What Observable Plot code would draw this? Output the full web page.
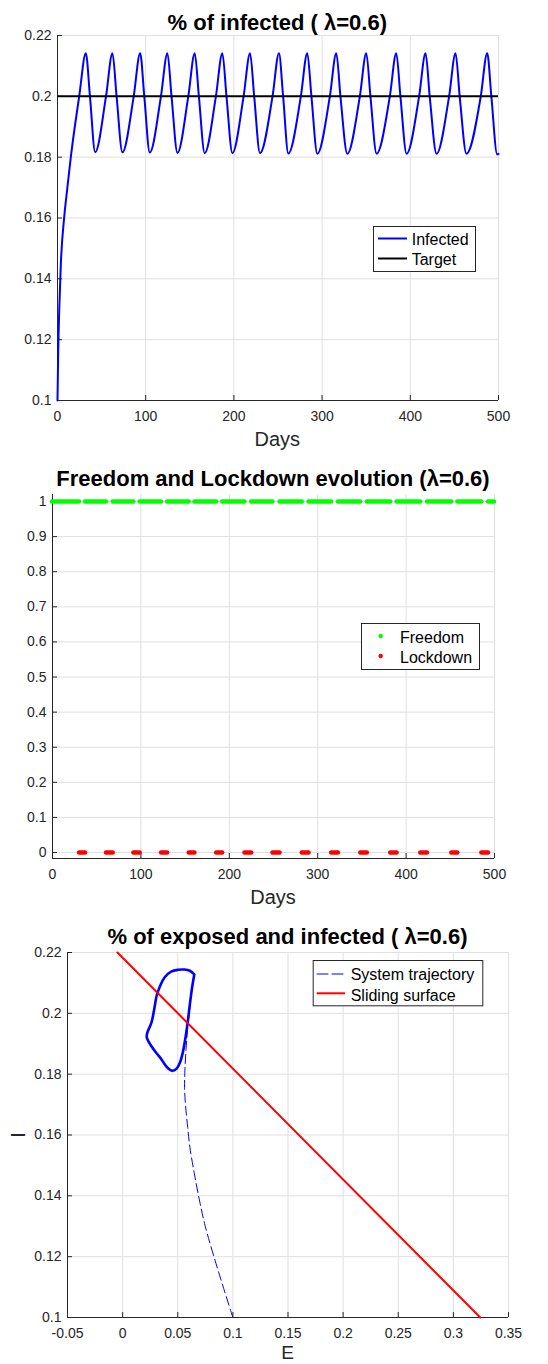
<!DOCTYPE html>
<html>
<head>
<meta charset="utf-8">
<script src="https://cdn.jsdelivr.net/npm/d3@7"></script>
<script src="https://cdn.jsdelivr.net/npm/@observablehq/plot@0.6"></script>
<style>
  html, body { margin: 0; padding: 0; background: #fff; }
  #wrap { position: relative; width: 548px; height: 1364px; overflow: hidden; background: #fff; }
  #wrap > svg { position: absolute; left: 0; }
  #overlay { pointer-events: none; }
</style>
</head>
<body>
<div id="wrap"></div>
<script>
// ---------------- DATA ----------------
// Tick values
const dayTicks = [0, 100, 200, 300, 400, 500];
const iTicks = [0.1, 0.12, 0.14, 0.16, 0.18, 0.2, 0.22];
const ctrlTicks = [0, 0.1, 0.2, 0.3, 0.4, 0.5, 0.6, 0.7, 0.8, 0.9, 1];
const eTicks = [-0.05, 0, 0.05, 0.1, 0.15, 0.2, 0.25, 0.3, 0.35];

// Panel 1: % of infected — initial rise, then cycles
const riseDay = [0, 0.8, 2, 3.8, 7.5, 11.2, 15.1, 19.6, 24.6];
const riseI   = [0.1, 0.116, 0.13, 0.145, 0.16, 0.17, 0.18, 0.19, 0.2];
const peakDay   = [32.1, 62.3, 93.7, 124.6, 155.6, 186.9, 218.3, 251.1, 283.2, 316.1, 350.1, 384.1, 417.3, 451.3, 487.2];
const peakI     = [0.2142, 0.2142, 0.2142, 0.2142, 0.2142, 0.2142, 0.2142, 0.2142, 0.2142, 0.2142, 0.2142, 0.2142, 0.2142, 0.2142, 0.2142];
const downDay   = [36.8, 67.0, 98.4, 129.3, 160.3, 191.6, 223.0, 255.8, 287.9, 320.8, 354.8, 388.8, 422.0, 456.0, 491.9];
const troughDay = [42.7, 73.6, 104.6, 136.0, 166.9, 198.3, 229.6, 261.7, 294.6, 328.6, 361.8, 395.8, 429.8, 463.7, 498.5];
const troughI   = [0.1816, 0.1816, 0.1815, 0.1814, 0.1813, 0.1813, 0.1813, 0.1812, 0.1811, 0.1811, 0.1811, 0.1811, 0.1811, 0.1811, 0.1809];
const upDay     = [55.0, 86.4, 117.3, 148.3, 179.6, 211.0, 243.8, 275.9, 308.8, 342.8, 376.8, 410.0, 444.0, 479.9];
const crossI = 0.2;
const endDay = 500, endI = 0.1811;
const targetI = 0.2;

// Panel 2: lockdown intervals (days)
const lockStart = [30.6, 61.1, 92.1, 123.4, 154.7, 185.7, 217.7, 249.4, 282.6, 315.8, 348.7, 382.6, 416.6, 451.7, 485.7];
const lockEnd   = [37.4, 68.7, 99.2, 130.2, 161.1, 192.5, 225.3, 257.4, 290.2, 323.4, 356.2, 389.8, 424.2, 458.5, 493.2];
const freedomLevel = 1, lockdownLevel = 0;

// Panel 3: phase plane (E, I)
const transE = [0.1000, 0.0870, 0.0748, 0.0700, 0.0651, 0.0610, 0.0590, 0.0570, 0.0562, 0.0565, 0.0575, 0.0590, 0.0610, 0.0630, 0.0650];
const transI = [0.1000, 0.1150, 0.1302, 0.1380, 0.1472, 0.1560, 0.1626, 0.1700, 0.1757, 0.1813, 0.1880, 0.1950, 0.2020, 0.2080, 0.2128];
const loopE = [0.0650, 0.0610, 0.0560, 0.0500, 0.0440, 0.0380, 0.0340, 0.0310, 0.0285, 0.0262, 0.0218, 0.0265, 0.0310, 0.0350, 0.0390, 0.0430, 0.0455, 0.0490, 0.0520, 0.0545, 0.0570, 0.0590, 0.0610, 0.0630, 0.0650];
const loopI = [0.2128, 0.2140, 0.2144, 0.2143, 0.2137, 0.2118, 0.2090, 0.2060, 0.2010, 0.1970, 0.1924, 0.1890, 0.1868, 0.1850, 0.1828, 0.1814, 0.1811, 0.1818, 0.1838, 0.1870, 0.1920, 0.1970, 0.2030, 0.2085, 0.2128];
const surfE = [-0.0047, 0.3244];
const surfI = [0.22, 0.10];

// ---------------- BUILD ----------------
const FONT = "'Liberation Sans', Arial, Helvetica, sans-serif";
const AX = "#262626";
const GRID = "#dfdfdf";
const fmt = d => { const v = +(+d).toFixed(3); return String(v); };

const infected = [];
riseDay.forEach((d, i) => infected.push({day: d, I: riseI[i]}));
peakDay.forEach((d, i) => {
  if (i > 0) infected.push({day: upDay[i - 1], I: crossI});
  infected.push({day: d, I: peakI[i]});
  infected.push({day: downDay[i], I: crossI});
  infected.push({day: troughDay[i], I: troughI[i]});
});
infected.push({day: endDay, I: endI});

const lockSegs = lockStart.map((s, i) => ({start: s, end: lockEnd[i], level: lockdownLevel}));
const freeStarts = [0, ...lockEnd];
const freeEnds = [...lockStart, 500];
const freeSegs = freeStarts.map((s, i) => ({start: s, end: freeEnds[i], level: freedomLevel}));

const trans = transE.map((e, i) => ({E: e, I: transI[i]}));
const loop = loopE.map((e, i) => ({E: e, I: loopI[i]}));
const surf = surfE.map((e, i) => ({E: e, I: surfI[i]}));

const baseStyle = {background: "transparent", fontFamily: FONT, fontSize: "14px", color: AX, overflow: "visible"};

function axes(xt, yt, xmin, ymin) {
  return [
    Plot.gridX({ticks: xt, stroke: GRID, strokeOpacity: 1}),
    Plot.gridY({ticks: yt, stroke: GRID, strokeOpacity: 1}),
    Plot.ruleX([xmin], {stroke: AX, strokeWidth: 1}),
    Plot.ruleY([ymin], {stroke: AX, strokeWidth: 1}),
    Plot.axisX({ticks: xt, tickSize: -5, tickPadding: 15.8, tickFormat: fmt, label: null, stroke: AX}),
    Plot.axisY({ticks: yt, tickSize: -5, tickPadding: 11, tickFormat: fmt, label: null, stroke: AX})
  ];
}

const p1 = Plot.plot({
  width: 548, height: 460,
  marginTop: 35, marginBottom: 60, marginLeft: 57, marginRight: 50,
  x: {domain: [0, 500], label: null},
  y: {domain: [0.1, 0.22], label: null},
  style: baseStyle,
  marks: [
    ...axes(dayTicks, iTicks, 0, 0.1),
    Plot.line(infected, {x: "day", y: "I", stroke: "#0000ff", strokeWidth: 2, curve: "monotone-x"}),
    Plot.ruleY([targetI], {stroke: "#000000", strokeWidth: 2})
  ]
});
p1.style.top = "0px";

const p2 = Plot.plot({
  width: 548, height: 440,
  marginTop: 34, marginBottom: 42, marginLeft: 52, marginRight: 54,
  x: {domain: [0, 500], label: null},
  y: {domain: [-0.017, 1.02], label: null},
  style: baseStyle,
  marks: [
    ...axes(dayTicks, ctrlTicks, 0, -0.017),
    Plot.ruleY(freeSegs, {y: "level", x1: "start", x2: "end", stroke: "#00ff00", strokeWidth: 4.5, strokeLinecap: "round"}),
    Plot.ruleY(lockSegs, {y: "level", x1: "start", x2: "end", stroke: "#ff0000", strokeWidth: 4.5, strokeLinecap: "round"})
  ]
});
p2.style.top = "460px";

const p3 = Plot.plot({
  width: 548, height: 464,
  marginTop: 52, marginBottom: 47, marginLeft: 67, marginRight: 40,
  x: {domain: [-0.05, 0.35], label: null},
  y: {domain: [0.1, 0.22], label: null},
  style: baseStyle,
  marks: [
    ...axes(eTicks, iTicks, -0.05, 0.1),
    Plot.line(loop, {x: "E", y: "I", stroke: "#0000ff", strokeWidth: 2.6, curve: "catmull-rom"}),
    Plot.line(trans, {x: "E", y: "I", stroke: "#0000ff", strokeWidth: 1, strokeDasharray: "9,4", curve: "catmull-rom"}),
    Plot.line(surf, {x: "E", y: "I", stroke: "#ff0000", strokeWidth: 2})
  ]
});
p3.style.top = "900px";

const wrap = document.getElementById("wrap");
wrap.appendChild(p1);
wrap.appendChild(p2);
wrap.appendChild(p3);

// ---------------- OVERLAY: titles, labels, legends ----------------
const svg = d3.select(wrap).append("svg")
  .attr("id", "overlay").attr("width", 548).attr("height", 1364)
  .style("top", "0px").style("font-family", FONT);

function txt(x, y, s, size, opts = {}) {
  return svg.append("text").attr("x", x).attr("y", y)
    .attr("font-size", size).attr("fill", opts.fill || AX)
    .attr("font-weight", opts.bold ? "bold" : "normal")
    .attr("text-anchor", opts.anchor || "middle")
    .attr("transform", opts.transform || null)
    .text(s);
}

// Titles
txt(277.3, 29.5, "% of infected ( λ=0.6)", 22, {bold: true, fill: "#000"});
txt(273, 486, "Freedom and Lockdown evolution (λ=0.6)", 22, {bold: true, fill: "#000"});
txt(287.5, 944.3, "% of exposed and infected ( λ=0.6)", 22, {bold: true, fill: "#000"});

// Axis labels
txt(277.3, 445.7, "Days", 20);
txt(273, 904, "Days", 20);
txt(287.5, 1358.5, "E", 19);
txt(0, 0, "I", 20, {transform: "translate(25,1135) rotate(-90)"});

// Legend helper
function box(x, y, w, h) {
  svg.append("rect").attr("x", x + 0.5).attr("y", y + 0.5).attr("width", w).attr("height", h)
    .attr("fill", "#fff").attr("stroke", AX).attr("stroke-width", 1);
}

// Legend 1
box(373, 226, 102, 45);
svg.append("line").attr("x1", 378).attr("x2", 407).attr("y1", 238.5).attr("y2", 238.5).attr("stroke", "#0000ff").attr("stroke-width", 2);
txt(411.7, 245, "Infected", 16, {anchor: "start", fill: "#000"});
svg.append("line").attr("x1", 378).attr("x2", 407).attr("y1", 258.5).attr("y2", 258.5).attr("stroke", "#000").attr("stroke-width", 2);
txt(411.7, 265, "Target", 16, {anchor: "start", fill: "#000"});

// Legend 2
box(361, 623, 118, 46);
svg.append("circle").attr("cx", 380.7).attr("cy", 636).attr("r", 2.2).attr("fill", "#00ff00");
txt(400, 642.7, "Freedom", 16, {anchor: "start", fill: "#000"});
svg.append("circle").attr("cx", 380.7).attr("cy", 656).attr("r", 2.2).attr("fill", "#ff0000");
txt(400, 662.7, "Lockdown", 16, {anchor: "start", fill: "#000"});

// Legend 3
box(312.7, 960, 169.6, 45.3);
svg.append("line").attr("x1", 316.7).attr("x2", 345).attr("y1", 974).attr("y2", 974).attr("stroke", "#0000ff").attr("stroke-width", 1).attr("stroke-dasharray", "11.7,3.3");
txt(350.7, 980, "System trajectory", 16, {anchor: "start", fill: "#000"});
svg.append("line").attr("x1", 316.7).attr("x2", 345).attr("y1", 993.3).attr("y2", 993.3).attr("stroke", "#ff0000").attr("stroke-width", 2);
txt(350.7, 1000.7, "Sliding surface", 16, {anchor: "start", fill: "#000"});
</script>
</body>
</html>
